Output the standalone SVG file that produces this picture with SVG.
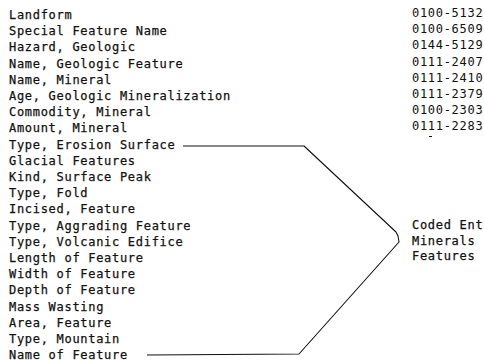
<svg xmlns="http://www.w3.org/2000/svg" width="484" height="362" viewBox="0 0 484 362">
<style>
text { font-family: "DejaVu Sans Mono", "Liberation Mono", monospace; font-size: 12px; letter-spacing: 0.7px; fill: #111; stroke: #111; stroke-width: 0.25px; }
#codes text { stroke: none; }
.conn { fill: none; stroke: #111; stroke-width: 1.1; stroke-linejoin: round; }
</style>
<rect width="484" height="362" fill="#fff"/>
<g id="terms">
<text x="9" y="19">Landform</text>
<text x="9" y="35.2">Special Feature Name</text>
<text x="9" y="51.4">Hazard, Geologic</text>
<text x="9" y="67.6">Name, Geologic Feature</text>
<text x="9" y="83.8">Name, Mineral</text>
<text x="9" y="100">Age, Geologic Mineralization</text>
<text x="9" y="116.2">Commodity, Mineral</text>
<text x="9" y="132.4">Amount, Mineral</text>
<text x="9" y="148.6">Type, Erosion Surface</text>
<text x="9" y="164.8">Glacial Features</text>
<text x="9" y="181">Kind, Surface Peak</text>
<text x="9" y="197.2">Type, Fold</text>
<text x="9" y="213.4">Incised, Feature</text>
<text x="9" y="229.6">Type, Aggrading Feature</text>
<text x="9" y="245.8">Type, Volcanic Edifice</text>
<text x="9" y="262">Length of Feature</text>
<text x="9" y="278.2">Width of Feature</text>
<text x="9" y="294.4">Depth of Feature</text>
<text x="9" y="310.6">Mass Wasting</text>
<text x="9" y="326.8">Area, Feature</text>
<text x="9" y="343">Type, Mountain</text>
<text x="9" y="359.2">Name of Feature</text>
</g>
<g id="codes">
<text x="412" y="17.3">0100-5132</text>
<text x="412" y="33.4">0100-6509</text>
<text x="412" y="49.4">0144-5129</text>
<text x="412" y="65.5">0111-2407</text>
<text x="412" y="81.5">0111-2410</text>
<text x="412" y="97.6">0111-2379</text>
<text x="412" y="113.6">0100-2303</text>
<text x="412" y="129.7">0111-2283</text>
<line x1="429" y1="136.5" x2="432" y2="136.5" stroke="#111" stroke-width="1"/>
</g>
<g id="target">
<text x="412" y="229">Coded Ent</text>
<text x="412" y="244.5">Minerals</text>
<text x="412" y="260">Features</text>
</g>
<g id="connectors">
<path class="conn" d="M183 146 L304 146 L396 232 L398 236 L399 242 L299 354 L147 355"/>
</g>
</svg>
